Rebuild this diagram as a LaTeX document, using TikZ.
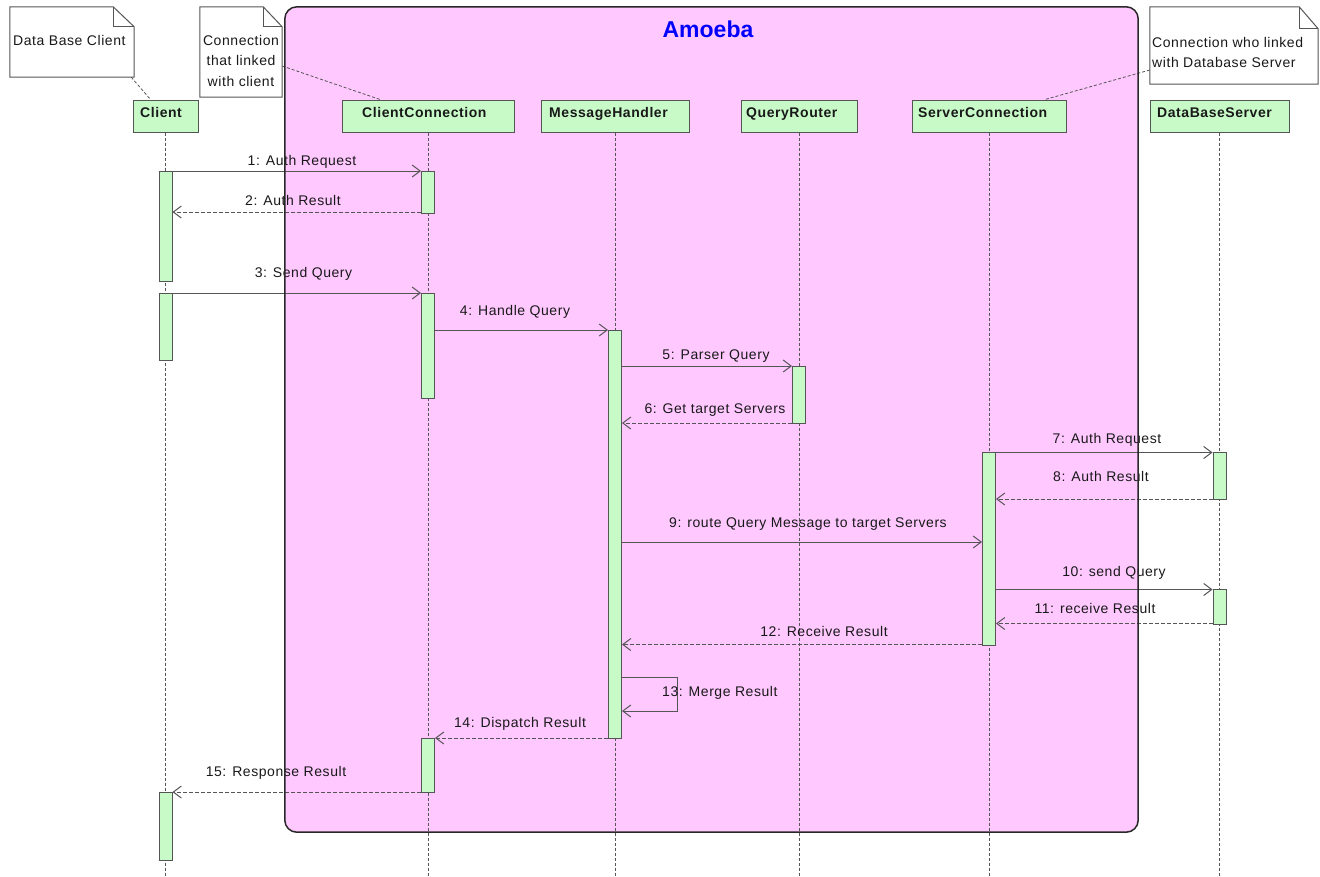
\documentclass[tikz,border=0pt]{standalone}
\usepackage{fontspec}
\setmainfont{Liberation Sans}[LetterSpace=4]
\newfontfamily\titlefont{Liberation Sans}
\usetikzlibrary{arrows.meta}
\definecolor{pinkbg}{RGB}{255,200,255}
\definecolor{actgreen}{RGB}{200,250,200}
\definecolor{linegray}{RGB}{85,85,85}
\definecolor{framecol}{RGB}{40,40,40}
\definecolor{txt}{RGB}{25,25,25}
\begin{document}
\begin{tikzpicture}[x=1pt,y=-1pt,font=\fontsize{14}{16}\selectfont,
  hdr/.style={draw=linegray,fill=actgreen,line width=1pt,minimum height=32pt,inner sep=0pt},
  actbar/.style={draw=linegray,fill=actgreen,line width=1pt,minimum width=13pt,inner sep=0pt,anchor=north},
  lifel/.style={draw=linegray,line width=0.8pt,dash pattern=on 3pt off 2pt},
  msg/.style={draw=linegray,line width=1pt,-{Straight Barb[length=8pt,width=12pt]}},
  ret/.style={msg,dash pattern=on 4pt off 2pt},
  lbl/.style={text=txt,anchor=base,inner sep=0pt},
  hdrtxt/.style={font=\fontsize{14}{16}\selectfont\bfseries,anchor=base west,inner sep=0pt,text=txt},
  notebox/.style={fill=white,inner sep=0pt},
  noteline/.style={draw=linegray,line width=1pt},
  notelink/.style={draw=linegray,line width=0.8pt,dash pattern=on 3pt off 2pt}]
\useasboundingbox (0,0) rectangle (1320,876);
% frame fill
\node[fill=pinkbg,rounded corners=12pt,minimum width=853pt,minimum height=825pt,inner sep=0pt] (amoeba) at (711.5,419.5) {};
% notes
\node[notebox,minimum width=124pt,minimum height=70pt] (n1) at (72,42) {};
\draw[noteline] (n1.north west) -- ([xshift=-21pt]n1.north east) -- ([yshift=-20pt]n1.north east) -- (n1.south east) -- (n1.south west) -- cycle;
\draw[noteline] ([xshift=-21pt]n1.north east) -- ([xshift=-21pt,yshift=-20pt]n1.north east) -- ([yshift=-20pt]n1.north east);
\node[lbl,anchor=base west] (t1) at (13,45.5) {Data Base Client};
\node[notebox,minimum width=82pt,minimum height=90pt] (n2) at (241,52) {};
\draw[noteline] (n2.north west) -- ([xshift=-19pt]n2.north east) -- ([yshift=-20pt]n2.north east) -- (n2.south east) -- (n2.south west) -- cycle;
\draw[noteline] ([xshift=-19pt]n2.north east) -- ([xshift=-19pt,yshift=-20pt]n2.north east) -- ([yshift=-20pt]n2.north east);
\node[lbl] (t2a) at (241,45.7) {Connection};
\node[lbl] (t2b) at (241,65.7) {that linked};
\node[lbl] (t2c) at (241,86) {with client};
\node[notebox,minimum width=168pt,minimum height=77pt] (n3) at (1234,45.5) {};
\draw[noteline] (n3.north west) -- ([xshift=-19pt]n3.north east) -- ([yshift=-22pt]n3.north east) -- (n3.south east) -- (n3.south west) -- cycle;
\draw[noteline] ([xshift=-19pt]n3.north east) -- ([xshift=-19pt,yshift=-22pt]n3.north east) -- ([yshift=-22pt]n3.north east);
\node[lbl,anchor=base west] (t3a) at (1152,47) {Connection who linked};
\node[lbl,anchor=base west] (t3b) at (1152,67) {with Database Server};
% headers
\node[hdr,minimum width=65pt] (hCl) at (165.5,116) {};
\node[hdr,minimum width=172pt] (hCC) at (428,116) {};
\node[hdr,minimum width=148pt] (hMH) at (615,116) {};
\node[hdr,minimum width=116pt] (hQR) at (799,116) {};
\node[hdr,minimum width=154pt] (hSC) at (989,116) {};
\node[hdr,minimum width=139pt] (hDB) at (1219.5,116) {};
\node[hdrtxt] (xCl) at (140,117) {Client};
\node[hdrtxt] (xCC) at (362,117) {ClientConnection};
\node[hdrtxt] (xMH) at (549,117) {MessageHandler};
\node[hdrtxt] (xQR) at (746,117) {QueryRouter};
\node[hdrtxt] (xSC) at (918,117) {ServerConnection};
\node[hdrtxt] (xDB) at (1157,117) {DataBaseServer};
% note links
\draw[notelink] ([xshift=-3pt]n1.south east) -- ([xshift=-15pt]hCl.north);
\draw[notelink] (n2.east |- 0,66) -- ([xshift=-48pt]hCC.north);
\draw[notelink] (n3.west |- 0,70) -- ([xshift=56pt]hSC.north);
% lifelines
\foreach \h in {hCl,hCC,hMH,hQR,hSC,hDB}{\draw[lifel] (\h.south) -- (\h.south |- 0,876);}
% activation bars
\node[actbar,minimum height=110pt] (clA) at (165.5,171) {};
\node[actbar,minimum height=67pt] (clB) at (165.5,293) {};
\node[actbar,minimum height=68pt] (clC) at (165.5,792) {};
\node[actbar,minimum height=42pt] (ccA) at (428,171) {};
\node[actbar,minimum height=105pt] (ccB) at (428,293) {};
\node[actbar,minimum height=54pt] (ccC) at (428,738) {};
\node[actbar,minimum height=408.5pt] (mhA) at (615,329.5) {};
\node[actbar,minimum height=57pt] (qrA) at (799,366) {};
\node[actbar,minimum height=193pt] (scA) at (989,452) {};
\node[actbar,minimum height=47pt] (dbA) at (1219.5,452) {};
\node[actbar,minimum height=35pt] (dbB) at (1219.5,589) {};
% messages
\draw[msg] (clA.east |- 0,171) -- (ccA.west |- 0,171);
\draw[ret] (ccA.west |- 0,212) -- (clA.east |- 0,212);
\draw[msg] (clB.east |- 0,293) -- (ccB.west |- 0,293);
\draw[msg] (ccB.east |- 0,330) -- (mhA.west |- 0,330);
\draw[msg] (mhA.east |- 0,366) -- (qrA.west |- 0,366);
\draw[ret] (qrA.west |- 0,423) -- (mhA.east |- 0,423);
\draw[msg] (scA.east |- 0,452.5) -- (dbA.west |- 0,452.5);
\draw[ret] (dbA.west |- 0,499) -- (scA.east |- 0,499);
\draw[msg] (mhA.east |- 0,542) -- (scA.west |- 0,542);
\draw[msg] (scA.east |- 0,589.5) -- (dbB.west |- 0,589.5);
\draw[ret] (dbB.west |- 0,623.5) -- (scA.east |- 0,623.5);
\draw[ret] (scA.west |- 0,644.5) -- (mhA.east |- 0,644.5);
\coordinate (m13) at (677,677);
\draw[msg] (mhA.east |- m13) -- (m13) -- (677,711) -- (mhA.east |- 0,711);
\draw[ret] (mhA.west |- 0,738) -- (ccC.east |- 0,738);
\draw[ret] (ccC.west |- 0,792) -- (clC.east |- 0,792);
% labels
\node[lbl] (l1) at (302,165) {1: Auth Request};
\node[lbl] (l2) at (293,205) {2: Auth Result};
\node[lbl] (l3) at (303.5,277.7) {3: Send Query};
\node[lbl] (l4) at (515,315) {4: Handle Query};
\node[lbl] (l5) at (716,359) {5: Parser Query};
\node[lbl] (l6) at (715,413.3) {6: Get target Servers};
\node[lbl] (l7) at (1107,443) {7: Auth Request};
\node[lbl] (l8) at (1101,481.7) {8: Auth Result};
\node[lbl] (l9) at (808,527) {9: route Query Message to target Servers};
\node[lbl] (l10) at (1114,576.7) {10: send Query};
\node[lbl] (l11) at (1095,613.3) {11: receive Result};
\node[lbl] (l12) at (824,636.7) {12: Receive Result};
\node[lbl,anchor=base west] (l13) at (662,696.7) {13: Merge Result};
\node[lbl] (l14) at (520,727) {14: Dispatch Result};
\node[lbl] (l15) at (276,776) {15: Response Result};
% frame border and title
\draw[framecol,line width=1.5pt,rounded corners=12pt] (amoeba.north west) rectangle (amoeba.south east);
\node[font=\fontsize{23}{26}\selectfont\titlefont\bfseries,text=blue,anchor=base,inner sep=0pt] (title) at (708,37.3) {Amoeba};
\end{tikzpicture}
\end{document}
